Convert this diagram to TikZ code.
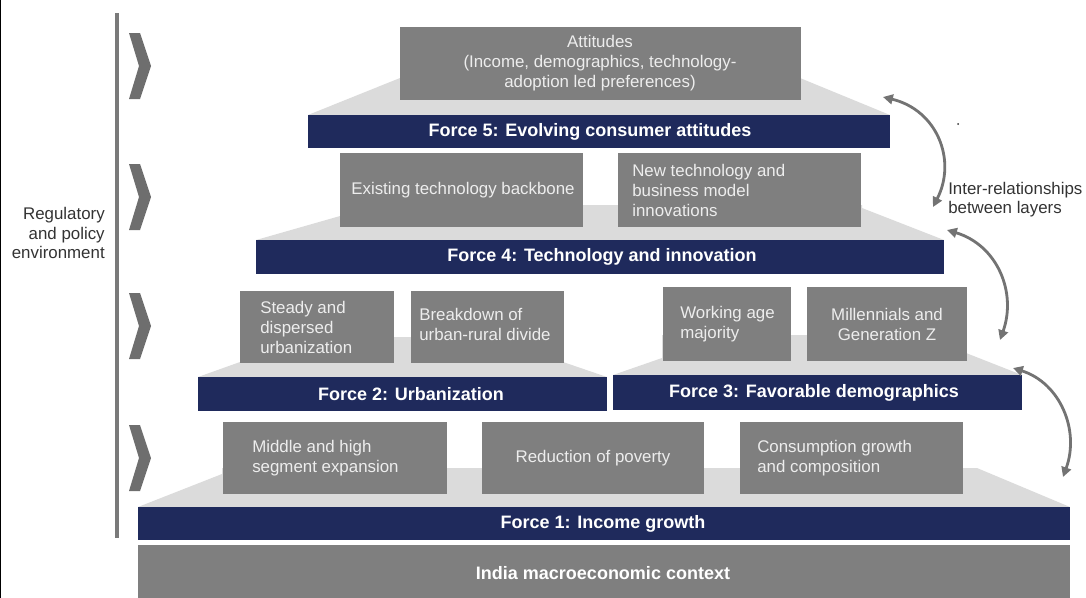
\documentclass[tikz,border=0pt]{standalone}
\usepackage{fontspec}
\setmainfont{Liberation Sans}
\usetikzlibrary{arrows.meta}
\definecolor{navy}{HTML}{1F2A5C}
\definecolor{boxGrey}{HTML}{7F7F7F}
\definecolor{stepGrey}{HTML}{DBDBDB}
\definecolor{paleText}{HTML}{EDEDED}
\definecolor{chevGrey}{HTML}{6E6E6E}
\definecolor{sideGrey}{HTML}{7A7A7A}
\definecolor{linkGrey}{HTML}{737373}
\definecolor{darkText}{HTML}{333333}

\begin{document}
\begin{tikzpicture}[x=0.025cm,y=-0.025cm,
    boxtxt/.style={inner sep=0pt,text=paleText,font=\fontsize{12}{14.2}\selectfont},
    bartxt/.style={inner sep=0pt,text=white,font=\fontsize{12.8}{14.2}\selectfont\bfseries},
    sidetxt/.style={inner sep=0pt,text=darkText,font=\fontsize{12}{13.6}\selectfont},
    link/.style={draw=linkGrey,line width=2pt,{Triangle[length=7pt,width=7pt]}-{Triangle[length=7pt,width=7pt]}}]
      \useasboundingbox (0,0) rectangle (1086,598);
      \fill (0,0) rectangle (1.5,598);

      % regulatory side
      \draw [line width=2.8pt,sideGrey] (117,13) -- (117,538);
      \foreach \y in {66,197,326,458}
      \fill [chevGrey] (129,\y-33) -- (140,\y-33) -- (151,\y) -- (140,\y+33) -- (129,\y+33) -- (139,\y) -- cycle;
      \node [sidetxt,align=right,anchor=east] (reg) at (105,233) {Regulatory\\and policy\\environment};

      % light grey steps
      \fill [stepGrey] (308,115) -- (400,78) -- (800,78) -- (890,115) -- cycle;
      \fill [stepGrey] (256,240) -- (340,216) -- (340,205) -- (862,205) -- (862,208) -- (944,240) -- cycle;
      \fill [stepGrey] (198,377) -- (240,362) -- (240,337) -- (563,337) -- (563,362) -- (607,377) -- cycle;
      \fill [stepGrey] (613,375) -- (662,358) -- (662,335) -- (966,335) -- (966,353) -- (1022,375) -- cycle;
      \fill [stepGrey] (138,507) -- (222,474) -- (222,468) -- (977,468) -- (1070,507) -- cycle;

      % force bars
      \fill [navy] (308,115) rectangle (890,148);
      \node [bartxt] (f5) at (590,131.5) {Force 5: Evolving consumer attitudes};
      \fill [navy] (256,240) rectangle (944,274);
      \node [bartxt] (f4) at (602,257) {Force 4: Technology and innovation};
      \fill [navy] (198,377) rectangle (607,411);
      \node [bartxt] (f2) at (411,394) {Force 2: Urbanization};
      \fill [navy] (613,375) rectangle (1022,410);
      \node [bartxt] (f3) at (814,392.5) {Force 3: Favorable demographics};
      \fill [navy] (138,507) rectangle (1070,540);
      \node [bartxt] (f1) at (603,523.5) {Force 1: Income growth};
      \fill [boxGrey] (138,545) rectangle (1070,598);
      \node [bartxt] (india) at (603,573) {India macroeconomic context};

      % layer boxes
      \fill [boxGrey] (400,27) rectangle (801,100);
      \node [boxtxt,align=center] (att) at (600,63.5) {Attitudes\\(Income, demographics, technology-\\adoption led preferences)};
      \fill [boxGrey] (340,153) rectangle (583,227);
      \node [boxtxt] (exist) at (463,190) {Existing technology backbone};
      \fill [boxGrey] (618,153) rectangle (861,227);
      \node [boxtxt,align=left,anchor=west] (newtech) at (632,190) {New technology and\\business model\\innovations};
      \fill [boxGrey] (240,291) rectangle (394,363);
      \node [boxtxt,align=left,anchor=west] (steady) at (260,327) {Steady and\\dispersed\\urbanization};
      \fill [boxGrey] (411,291) rectangle (564,363);
      \node [boxtxt,align=left,anchor=west] (divide) at (419,324) {Breakdown of\\urban-rural divide};
      \fill [boxGrey] (663,287) rectangle (791,361);
      \node [boxtxt,align=left,anchor=west] (working) at (680,324) {Working age\\majority};
      \fill [boxGrey] (807,287) rectangle (967,361);
      \node [boxtxt,align=center] (millen) at (887,324) {Millennials and\\Generation Z};
      \fill [boxGrey] (223,422) rectangle (447,494);
      \node [boxtxt,align=left,anchor=west] (middle) at (252,458) {Middle and high\\segment expansion};
      \fill [boxGrey] (482,422) rectangle (704,494);
      \node [boxtxt] (poverty) at (593,458) {Reduction of poverty};
      \fill [boxGrey] (740,422) rectangle (963,494);
      \node [boxtxt,align=left,anchor=west] (consum) at (757,458) {Consumption growth\\and composition};

      % inter-relationships
      \coordinate (r5a) at (883,97);
      \coordinate (r5b) at (933,207);
      \coordinate (r4a) at (947,230);
      \coordinate (r4b) at (1000,340);
      \coordinate (r3a) at (1013,368);
      \coordinate (r3b) at (1063,477);
      \draw [link] (r5a) .. controls (937,110) and (957,160) .. (r5b);
      \draw [link] (r4a) .. controls (997,245) and (1017,292) .. (r4b);
      \draw [link] (r3a) .. controls (1060,383) and (1080,430) .. (r3b);
      \node [sidetxt,align=left,anchor=west] (rel) at (948,200) {Inter-relationships\\between layers};
      \fill [darkText] (958,124) circle (1);
    \end{tikzpicture}
\end{document}
